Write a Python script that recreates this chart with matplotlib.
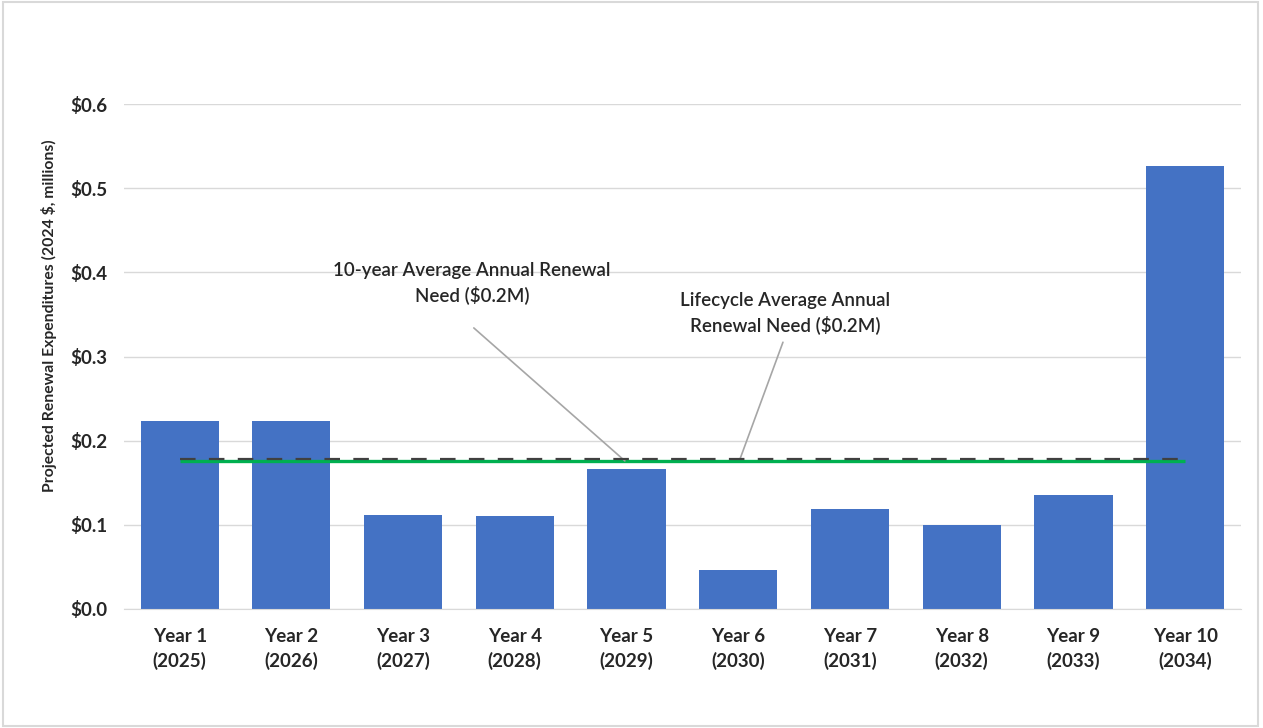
import matplotlib.pyplot as plt
from matplotlib.patches import Rectangle
from matplotlib.ticker import FuncFormatter, MultipleLocator

plt.rcParams['font.family'] = ['Lato', 'DejaVu Sans']

categories = ["Year 1\n(2025)", "Year 2\n(2026)", "Year 3\n(2027)", "Year 4\n(2028)",
              "Year 5\n(2029)", "Year 6\n(2030)", "Year 7\n(2031)", "Year 8\n(2032)",
              "Year 9\n(2033)", "Year 10\n(2034)"]
expenditures = [0.223, 0.223, 0.112, 0.111, 0.166, 0.046, 0.119, 0.100, 0.135, 0.527]
ten_year_avg = 0.176
lifecycle_avg = 0.178

label_ten_year = "10-year Average Annual Renewal\nNeed ($0.2M)"
label_lifecycle = "Lifecycle Average Annual\nRenewal Need ($0.2M)"
y_title = "Projected Renewal Expenditures (2024 $, millions)"

fig = plt.figure(figsize=(12.63, 7.28), dpi=100)
ax = fig.add_axes([0.098, 0.1635, 0.8846, 0.6935])

x = list(range(len(categories)))
ax.bar(x, expenditures, width=0.70, color="#4472C4", zorder=2)

ax.plot([x[0], x[-1]], [ten_year_avg] * 2, color="#00B050", lw=2.4,
        solid_capstyle="butt", zorder=3)
ax.plot([x[0], x[-1]], [lifecycle_avg] * 2, color="#404040", lw=1.6,
        dashes=(7, 6), zorder=4)

ax.set_xlim(-0.5, len(categories) - 0.5)
ax.set_ylim(0, 0.6)
ax.yaxis.set_major_locator(MultipleLocator(0.1))
ax.yaxis.set_major_formatter(FuncFormatter(lambda v, p: f"${v:.1f}"))
ax.grid(axis="y", color="#D9D9D9", lw=1, zorder=0)
ax.set_axisbelow(True)
for s in ["top", "right", "left"]:
    ax.spines[s].set_visible(False)
ax.spines["bottom"].set_color("#D9D9D9")
ax.tick_params(axis="both", length=0, labelsize=13.5, colors="#262626")
ax.tick_params(axis="y", pad=12)
ax.tick_params(axis="x", pad=14)
ax.set_xticks(x)
ax.set_xticklabels(categories, fontweight="bold", linespacing=1.4)
for lab in ax.get_yticklabels():
    lab.set_fontweight("bold")

fig.text(49 / 1263, 1 - 316 / 728, y_title, rotation=90, ha="center", va="center",
         fontsize=11.3, fontweight="bold", color="#262626")

# callout labels with leader lines to the average lines
ax.text(2.615, 0.387, label_ten_year, ha="center", va="center", fontsize=13.5,
        color="#262626", fontweight="semibold", linespacing=1.4)
ax.annotate("", xy=(3.985, ten_year_avg), xytext=(2.633, 0.334),
            arrowprops=dict(arrowstyle="-", color="#A6A6A6", lw=1.2,
                            shrinkA=0, shrinkB=0))
ax.text(5.418, 0.352, label_lifecycle, ha="center", va="center", fontsize=13.5,
        color="#262626", fontweight="semibold", linespacing=1.4)
ax.annotate("", xy=(5.015, lifecycle_avg), xytext=(5.40, 0.317),
            arrowprops=dict(arrowstyle="-", color="#A6A6A6", lw=1.2,
                            shrinkA=0, shrinkB=0))

fig.patches.append(Rectangle((0.002, 0.003), 0.994, 0.994, transform=fig.transFigure,
                             fill=False, edgecolor="#D9D9D9", lw=1.5))

fig.savefig("out.png", dpi=100)
